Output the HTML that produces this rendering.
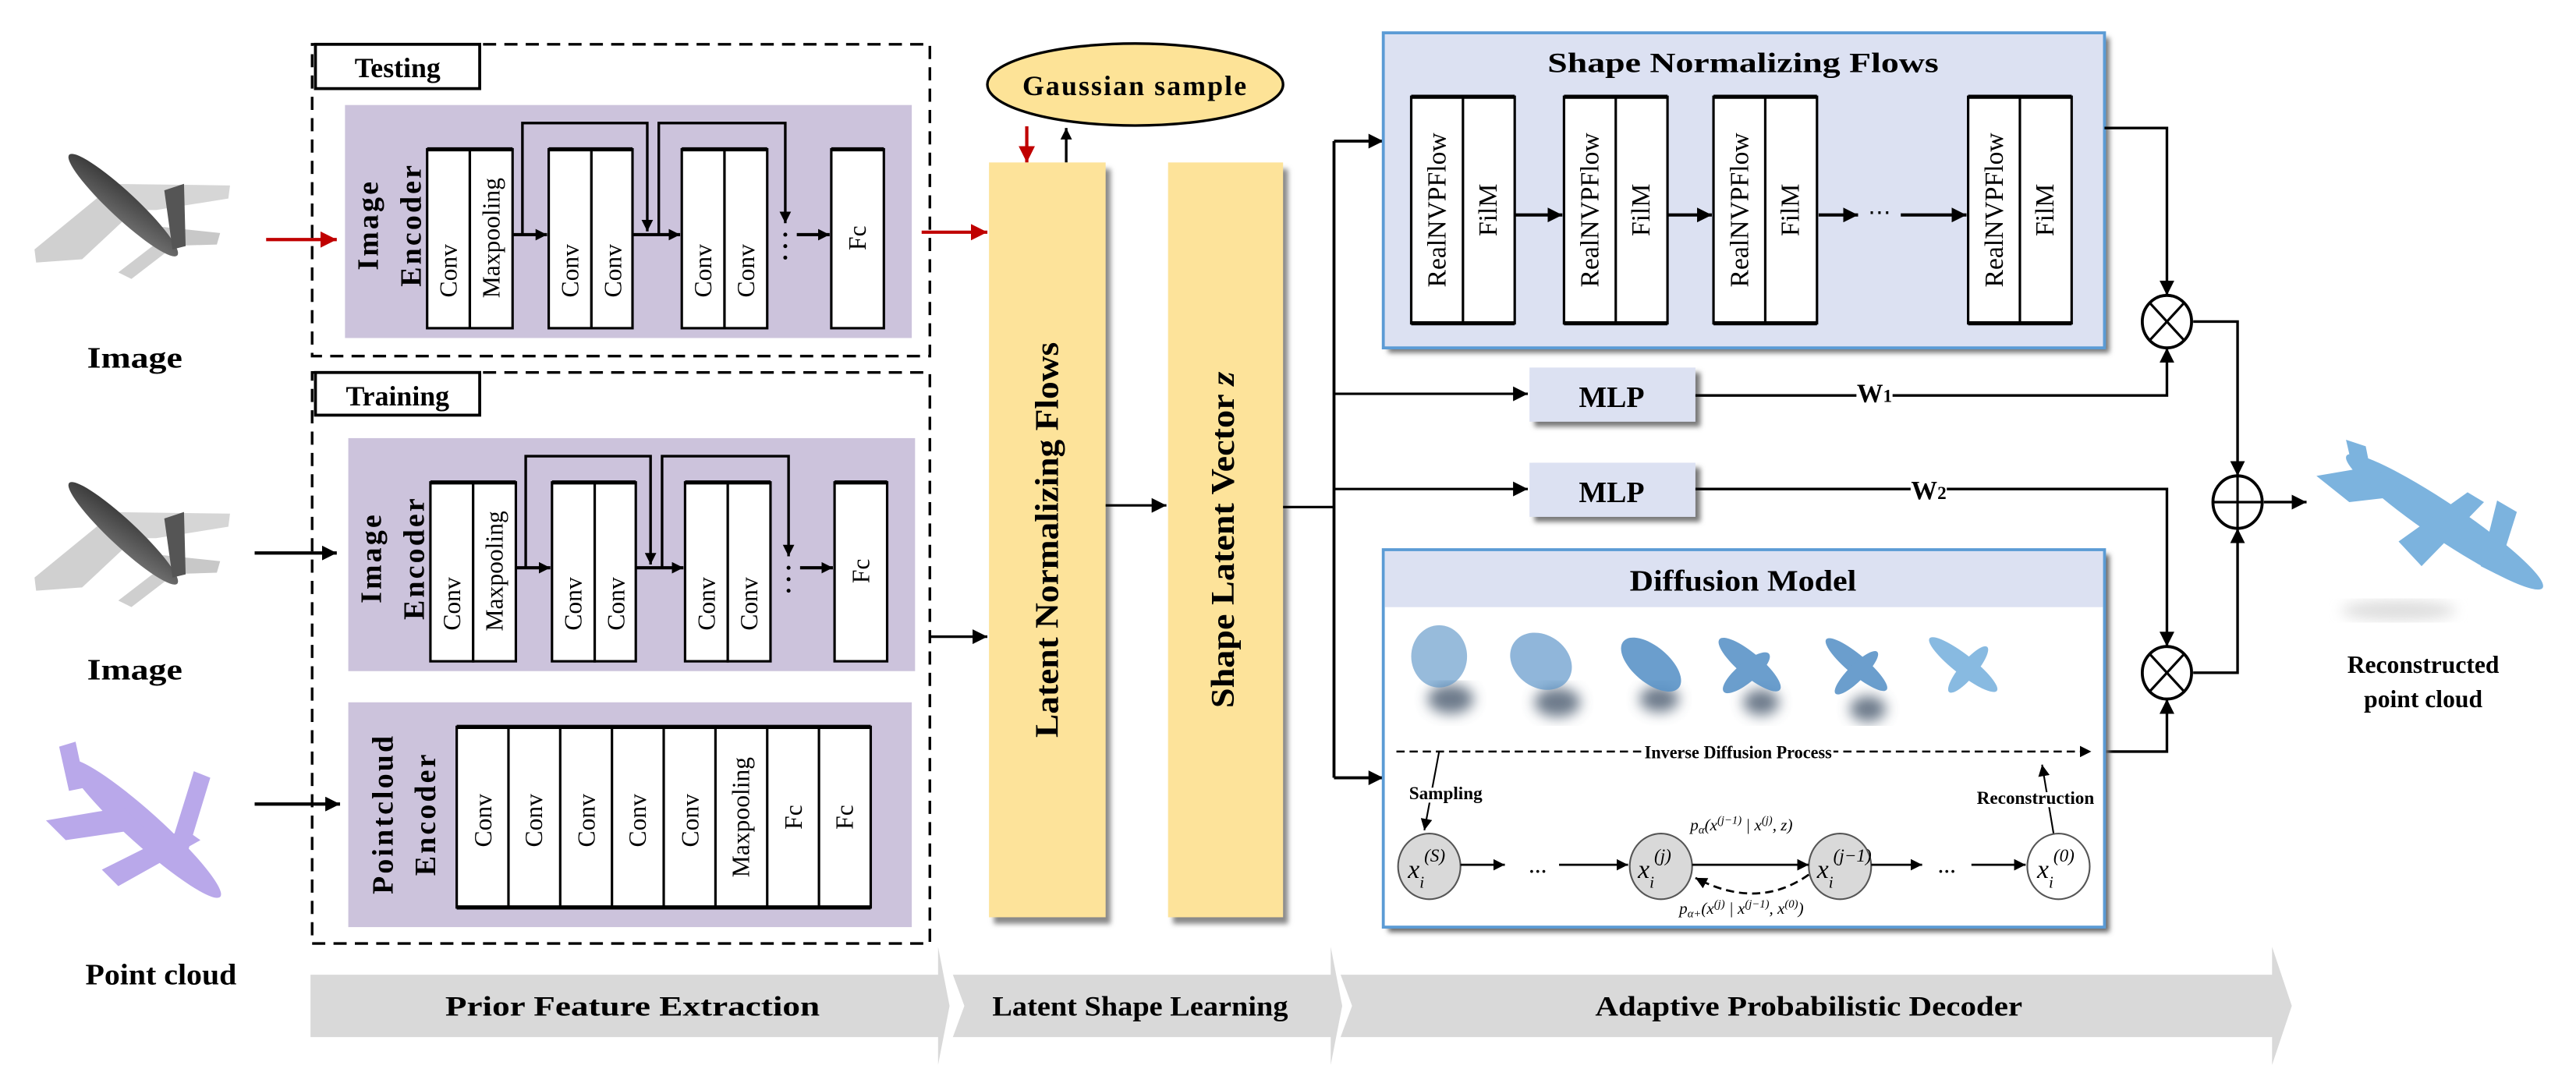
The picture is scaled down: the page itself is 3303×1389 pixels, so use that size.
<!DOCTYPE html>
<html><head><meta charset="utf-8"><style>
html,body{margin:0;padding:0;background:#fff;}
svg{display:block;}
text{font-family:"Liberation Serif",serif;}
</style></head><body>
<svg width="3303" height="1389" viewBox="0 0 1568 660" preserveAspectRatio="none" xmlns="http://www.w3.org/2000/svg">
<defs>
<marker id="a" viewBox="0 0 10 10" refX="10" refY="5" markerWidth="9" markerHeight="9" markerUnits="userSpaceOnUse" orient="auto"><path d="M0,0L10,5L0,10z" fill="#000"/></marker>
<marker id="as" viewBox="0 0 10 10" refX="10" refY="5" markerWidth="7" markerHeight="7" markerUnits="userSpaceOnUse" orient="auto"><path d="M0,0L10,5L0,10z" fill="#000"/></marker>
<marker id="ar" viewBox="0 0 10 10" refX="10" refY="5" markerWidth="10" markerHeight="10" markerUnits="userSpaceOnUse" orient="auto"><path d="M0,0L10,5L0,10z" fill="#c00000"/></marker>
<filter id="bl"><feGaussianBlur stdDeviation="4"/></filter>
<filter id="sh"><feGaussianBlur stdDeviation="1.5"/></filter>
<linearGradient id="fg" x1="0" y1="0" x2="1" y2="1"><stop offset="0" stop-color="#333"/><stop offset="1" stop-color="#777"/></linearGradient>
</defs>

<!-- bottom band -->
<g fill="#d9d9d9">
<polygon points="189,594 571,594 571,577 578,613 571,649 571,632 189,632"/>
<polygon points="580,594 810,594 810,577 817,613 810,649 810,632 580,632 587,613"/>
<polygon points="816,594 1383,594 1383,577 1395,613 1383,649 1383,632 816,632 823,613"/>
</g>
<g font-weight="bold" font-size="17" text-anchor="middle">
<text x="385" y="619" textLength="228" lengthAdjust="spacingAndGlyphs">Prior Feature Extraction</text>
<text x="694" y="619" textLength="180" lengthAdjust="spacingAndGlyphs">Latent Shape Learning</text>
<text x="1101" y="619" textLength="260" lengthAdjust="spacingAndGlyphs">Adaptive Probabilistic Decoder</text>
</g>

<!-- planes gray -->
<g id="gp">
<polygon points="62,112 140,113 139,121 95,128 60,128" fill="#d6d6d6"/>
<polygon points="60,120 82,128 50,158 22,160 21,152" fill="#d0d0d0"/>
<polygon points="96,138 134,142 132,149 100,150" fill="#c8c8c8"/>
<polygon points="98,146 106,150 80,170 72,166" fill="#cfcfcf"/>
<ellipse cx="75" cy="125" rx="45" ry="8" transform="rotate(43 75 125)" fill="url(#fg)"/>
<polygon points="100,116 112,112 113,150 105,152" fill="#555"/>
</g>
<use href="#gp" y="200"/>
<text x="82" y="224" font-size="18" font-weight="bold" text-anchor="middle" textLength="58" lengthAdjust="spacingAndGlyphs">Image</text>
<text x="82" y="414" font-size="18" font-weight="bold" text-anchor="middle" textLength="58" lengthAdjust="spacingAndGlyphs">Image</text>
<!-- purple plane -->
<g fill="#b9a8ea">
<ellipse cx="88" cy="505" rx="62" ry="10" transform="rotate(42 88 505)"/>
<polygon points="28,500 75,492 88,505 40,512"/>
<polygon points="62,530 112,505 122,512 72,540"/>
<polygon points="118,470 128,474 114,520 104,515"/>
<polygon points="36,455 46,452 52,480 42,482"/>
</g>
<text x="98" y="600" font-size="18" font-weight="bold" text-anchor="middle" textLength="92" lengthAdjust="spacingAndGlyphs">Point cloud</text>

<!-- input arrows -->
<line x1="162" y1="146" x2="205" y2="146" stroke="#c00000" stroke-width="2" marker-end="url(#ar)"/>
<line x1="155" y1="337" x2="205" y2="337" stroke="#000" stroke-width="2" marker-end="url(#a)"/>
<line x1="155" y1="490" x2="207" y2="490" stroke="#000" stroke-width="2" marker-end="url(#a)"/>

<!-- dashed boxes -->
<rect x="190" y="27" width="376" height="190" fill="none" stroke="#000" stroke-width="1.6" stroke-dasharray="8,5"/>
<rect x="190" y="227" width="376" height="348" fill="none" stroke="#000" stroke-width="1.6" stroke-dasharray="8,5"/>
<rect x="192" y="27" width="100" height="27" fill="#fff" stroke="#000" stroke-width="1.8"/>
<text x="242" y="47" font-size="17" font-weight="bold" text-anchor="middle">Testing</text>
<rect x="192" y="227" width="100" height="26" fill="#fff" stroke="#000" stroke-width="1.8"/>
<text x="242" y="247" font-size="17" font-weight="bold" text-anchor="middle">Training</text>

<!-- image encoder -->
<g id="ie">
<rect x="210" y="64" width="345" height="142" fill="#ccc3dc"/>
<g font-weight="bold" font-size="18" text-anchor="middle" letter-spacing="1.5">
<text transform="translate(230,137) rotate(-90)">Image</text>
<text transform="translate(256,137) rotate(-90)">Encoder</text>
</g>
<g fill="#fff" stroke="#000" stroke-width="1.5">
<rect x="260" y="91" width="26" height="109"/><rect x="286" y="91" width="26" height="109"/>
<rect x="334" y="91" width="26" height="109"/><rect x="360" y="91" width="25" height="109"/>
<rect x="415" y="91" width="26" height="109"/><rect x="441" y="91" width="26" height="109"/>
<rect x="506" y="91" width="32" height="109"/>
</g>
<g stroke="#000" stroke-width="2.5"><line x1="260" y1="91" x2="312" y2="91"/><line x1="334" y1="91" x2="385" y2="91"/><line x1="415" y1="91" x2="467" y2="91"/><line x1="506" y1="91" x2="538" y2="91"/></g>
<g font-size="15" text-anchor="middle">
<text transform="translate(278,165) rotate(-90)">Conv</text>
<text transform="translate(304,145) rotate(-90)">Maxpooling</text>
<text transform="translate(352,165) rotate(-90)">Conv</text>
<text transform="translate(378,165) rotate(-90)">Conv</text>
<text transform="translate(433,165) rotate(-90)">Conv</text>
<text transform="translate(459,165) rotate(-90)">Conv</text>
<text transform="translate(527,145) rotate(-90)">Fc</text>
</g>
<g fill="none" stroke="#000" stroke-width="1.6">
<line x1="312" y1="143" x2="333" y2="143" stroke-width="2" marker-end="url(#as)"/>
<line x1="385" y1="143" x2="414" y2="143" stroke-width="2" marker-end="url(#as)"/>
<line x1="485" y1="143" x2="505" y2="143" stroke-width="2" marker-end="url(#as)"/>
<polyline points="318,143 318,75 394,75 394,141" marker-end="url(#as)"/>
<polyline points="401,143 401,75 478,75 478,136" marker-end="url(#as)"/>
</g>
<g fill="#000"><circle cx="478" cy="143" r="1.2"/><circle cx="478" cy="150" r="1.2"/><circle cx="478" cy="157" r="1.2"/></g>
</g>
<use href="#ie" x="2" y="203"/>

<!-- pointcloud encoder -->
<rect x="212" y="428" width="343" height="137" fill="#ccc3dc"/>
<g font-weight="bold" font-size="18" text-anchor="middle" letter-spacing="1.5">
<text transform="translate(239,496) rotate(-90)">Pointcloud</text>
<text transform="translate(265,496) rotate(-90)">Encoder</text>
</g>
<g fill="#fff" stroke="#000" stroke-width="1.5">
<rect x="278" y="443" width="252" height="110"/>
</g>
<g stroke="#000" stroke-width="1.5">
<line x1="309.5" y1="443" x2="309.5" y2="553"/><line x1="341" y1="443" x2="341" y2="553"/><line x1="372.5" y1="443" x2="372.5" y2="553"/><line x1="404" y1="443" x2="404" y2="553"/><line x1="435.5" y1="443" x2="435.5" y2="553"/><line x1="467" y1="443" x2="467" y2="553"/><line x1="498.5" y1="443" x2="498.5" y2="553"/>
<line x1="278" y1="443" x2="530" y2="443" stroke-width="2.5"/><line x1="278" y1="553" x2="530" y2="553" stroke-width="2.5"/>
</g>
<g font-size="15" text-anchor="middle">
<text transform="translate(299,500) rotate(-90)">Conv</text>
<text transform="translate(330,500) rotate(-90)">Conv</text>
<text transform="translate(362,500) rotate(-90)">Conv</text>
<text transform="translate(393,500) rotate(-90)">Conv</text>
<text transform="translate(425,500) rotate(-90)">Conv</text>
<text transform="translate(456,498) rotate(-90)">Maxpooling</text>
<text transform="translate(488,498) rotate(-90)">Fc</text>
<text transform="translate(519,498) rotate(-90)">Fc</text>
</g>

<!-- to latent NF -->
<line x1="561" y1="141.5" x2="601" y2="141.5" stroke="#c00000" stroke-width="2" marker-end="url(#ar)"/>
<line x1="566" y1="388" x2="601" y2="388" stroke="#000" stroke-width="1.6" marker-end="url(#a)"/>

<!-- Gaussian -->
<ellipse cx="691" cy="51.5" rx="90" ry="25" fill="#fde397" stroke="#000" stroke-width="1.6"/>
<text x="691" y="58" font-size="17" font-weight="bold" text-anchor="middle" letter-spacing="1">Gaussian sample</text>
<line x1="625" y1="77" x2="625" y2="99" stroke="#c00000" stroke-width="2" marker-end="url(#ar)"/>
<line x1="649" y1="99" x2="649" y2="78" stroke="#000" stroke-width="1.6" marker-end="url(#as)"/>

<!-- yellow boxes -->
<rect x="605" y="103" width="71" height="460" fill="#888" filter="url(#sh)"/>
<rect x="602" y="99" width="71" height="460" fill="#fde39a"/>
<rect x="714" y="103" width="70" height="460" fill="#888" filter="url(#sh)"/>
<rect x="711" y="99" width="70" height="460" fill="#fde39a"/>
<text transform="translate(644,329) rotate(-90)" font-size="20" font-weight="bold" text-anchor="middle" textLength="241" lengthAdjust="spacingAndGlyphs">Latent Normalizing Flows</text>
<text transform="translate(751,329) rotate(-90)" font-size="20" font-weight="bold" text-anchor="middle" textLength="205" lengthAdjust="spacingAndGlyphs">Shape Latent Vector <tspan font-style="italic">z</tspan></text>
<line x1="673" y1="308" x2="710" y2="308" stroke="#000" stroke-width="1.5" marker-end="url(#a)"/>
<line x1="781" y1="309" x2="812" y2="309" stroke="#000" stroke-width="1.5"/>
<line x1="812" y1="86" x2="812" y2="474" stroke="#000" stroke-width="1.8"/>
<line x1="812" y1="86" x2="842" y2="86" stroke="#000" stroke-width="1.8" marker-end="url(#a)"/>
<line x1="812" y1="240" x2="930" y2="240" stroke="#000" stroke-width="1.5" marker-end="url(#a)"/>
<line x1="812" y1="298" x2="930" y2="298" stroke="#000" stroke-width="1.5" marker-end="url(#a)"/>
<line x1="812" y1="474" x2="842" y2="474" stroke="#000" stroke-width="1.8" marker-end="url(#a)"/>

<!-- Shape NF -->
<rect x="845" y="23" width="439" height="192" fill="#777" filter="url(#sh)"/>
<rect x="842" y="20" width="439" height="192" fill="#dce1f2" stroke="#5b9bd5" stroke-width="1.8"/>
<text x="1061" y="44" font-size="17" font-weight="bold" text-anchor="middle" textLength="238" lengthAdjust="spacingAndGlyphs">Shape Normalizing Flows</text>
<g id="nb">
<rect x="859" y="59" width="63" height="138" fill="#fff" stroke="#000" stroke-width="1.5"/>
<line x1="890.5" y1="59" x2="890.5" y2="197" stroke="#000" stroke-width="1.5"/>
<line x1="859" y1="59" x2="922" y2="59" stroke="#000" stroke-width="2.5"/>
<line x1="859" y1="197" x2="922" y2="197" stroke="#000" stroke-width="2.5"/>
<text transform="translate(880,128) rotate(-90)" font-size="16" text-anchor="middle">RealNVPFlow</text>
<text transform="translate(911,128) rotate(-90)" font-size="16" text-anchor="middle">FilM</text>
</g>
<use href="#nb" x="93"/><use href="#nb" x="184"/><use href="#nb" x="339"/>
<g stroke="#000" stroke-width="2">
<line x1="922" y1="131" x2="951" y2="131" marker-end="url(#a)"/>
<line x1="1015" y1="131" x2="1042" y2="131" marker-end="url(#a)"/>
<line x1="1107" y1="131" x2="1131" y2="131" marker-end="url(#a)"/>
<line x1="1157" y1="131" x2="1197" y2="131" marker-end="url(#a)"/>
</g>
<text x="1144" y="134" font-size="14" text-anchor="middle">⋯</text>

<!-- MLPs -->
<rect x="934" y="227" width="101" height="33" fill="#777" filter="url(#sh)"/>
<rect x="931" y="224" width="101" height="33" fill="#dce1f2"/>
<text x="981" y="248" font-size="18" font-weight="bold" text-anchor="middle">MLP</text>
<rect x="934" y="285" width="101" height="33" fill="#777" filter="url(#sh)"/>
<rect x="931" y="282" width="101" height="33" fill="#dce1f2"/>
<text x="981" y="306" font-size="18" font-weight="bold" text-anchor="middle">MLP</text>

<!-- combination -->
<g fill="none" stroke="#000" stroke-width="1.6">
<polyline points="1281,78 1319,78 1319,180" marker-end="url(#a)"/>
<polyline points="1032,241 1319,241 1319,212" marker-end="url(#a)"/>
<polyline points="1032,298 1319,298 1319,394" marker-end="url(#a)"/>
<polyline points="1281,458 1319,458 1319,426" marker-end="url(#a)"/>
<polyline points="1335,196 1362,196 1362,290" marker-end="url(#a)"/>
<polyline points="1335,410 1362,410 1362,322" marker-end="url(#a)"/>
<line x1="1378" y1="306" x2="1404" y2="306" marker-end="url(#a)"/>
</g>
<rect x="1130" y="230" width="22" height="18" fill="#fff"/>
<text x="1141" y="245" font-size="16" font-weight="bold" text-anchor="middle">W<tspan font-size="11">1</tspan></text>
<rect x="1163" y="287" width="22" height="18" fill="#fff"/>
<text x="1174" y="304" font-size="16" font-weight="bold" text-anchor="middle">W<tspan font-size="11">2</tspan></text>
<g fill="#fff" stroke="#000" stroke-width="1.8">
<ellipse cx="1319" cy="196" rx="15" ry="16"/>
<ellipse cx="1319" cy="410" rx="15" ry="16"/>
<ellipse cx="1362" cy="306" rx="15" ry="16"/>
</g>
<g stroke="#000" stroke-width="1.5">
<line x1="1308" y1="184" x2="1330" y2="208"/><line x1="1330" y1="184" x2="1308" y2="208"/>
<line x1="1308" y1="398" x2="1330" y2="422"/><line x1="1330" y1="398" x2="1308" y2="422"/>
<line x1="1347" y1="306" x2="1377" y2="306"/><line x1="1362" y1="290" x2="1362" y2="322"/>
</g>

<!-- reconstructed -->
<ellipse cx="1460" cy="372" rx="35" ry="6" fill="#ddd" filter="url(#bl)"/>
<g fill="#7cb3de">
<ellipse cx="1488" cy="318" rx="72" ry="11" transform="rotate(34 1488 318)"/>
<polygon points="1410,290 1445,284 1465,302 1430,306"/>
<polygon points="1460,330 1502,300 1512,306 1474,345"/>
<polygon points="1428,268 1440,272 1444,292 1434,294"/>
<polygon points="1520,305 1532,312 1520,350 1510,345"/>
</g>
<text x="1475" y="410" font-size="15" font-weight="bold" text-anchor="middle">Reconstructed</text>
<text x="1475" y="431" font-size="15" font-weight="bold" text-anchor="middle">point cloud</text>

<!-- Diffusion -->
<rect x="845" y="338" width="439" height="230" fill="#666" filter="url(#sh)"/>
<rect x="842" y="335" width="439" height="230" fill="#fff" stroke="#5b9bd5" stroke-width="1.8"/>
<rect x="843" y="336" width="437" height="34" fill="#dce1f2"/>
<text x="1061" y="360" font-size="18" font-weight="bold" text-anchor="middle" textLength="138" lengthAdjust="spacingAndGlyphs">Diffusion Model</text>
<g filter="url(#bl)" fill="#4a5a6e" opacity="0.8">
<ellipse cx="883" cy="426" rx="14" ry="9"/><ellipse cx="948" cy="428" rx="14" ry="9"/><ellipse cx="1010" cy="426" rx="12" ry="8"/><ellipse cx="1072" cy="428" rx="11" ry="8"/><ellipse cx="1137" cy="432" rx="11" ry="8"/>
</g>
<g fill="#5b94c8" opacity="0.9">
<ellipse cx="876" cy="400" rx="17" ry="19" opacity="0.7"/>
<ellipse cx="938" cy="403" rx="20" ry="16" transform="rotate(35 938 403)" opacity="0.75"/>
<ellipse cx="1005" cy="405" rx="22" ry="11" transform="rotate(40 1005 405)"/>
<ellipse cx="1065" cy="405" rx="24" ry="7" transform="rotate(40 1065 405)"/>
<ellipse cx="1063" cy="410" rx="18" ry="6" transform="rotate(-40 1063 410)"/>
<ellipse cx="1130" cy="405" rx="24" ry="6" transform="rotate(40 1130 405)"/>
<ellipse cx="1130" cy="410" rx="18" ry="5" transform="rotate(-45 1130 410)"/>
<ellipse cx="1195" cy="405" rx="26" ry="6" transform="rotate(38 1195 405)" fill="#7cb3de"/>
<ellipse cx="1198" cy="408" rx="18" ry="5" transform="rotate(-50 1198 408)" fill="#7cb3de"/>
</g>
<line x1="850" y1="458" x2="1273" y2="458" stroke="#000" stroke-width="1.2" stroke-dasharray="5,3" marker-end="url(#as)"/>
<rect x="1000" y="450" width="116" height="14" fill="#fff"/>
<text x="1058" y="462" font-size="11" font-weight="bold" text-anchor="middle" textLength="114" lengthAdjust="spacingAndGlyphs">Inverse Diffusion Process</text>
<line x1="876" y1="458" x2="867" y2="506" stroke="#000" stroke-width="1" marker-end="url(#as)"/>
<text x="880" y="487" font-size="11" font-weight="bold" text-anchor="middle" fill="#fff" stroke="#fff" stroke-width="4">Sampling</text>
<text x="880" y="487" font-size="11" font-weight="bold" text-anchor="middle">Sampling</text>
<line x1="1250" y1="508" x2="1243" y2="466" stroke="#000" stroke-width="1" marker-end="url(#as)"/>
<text x="1239" y="490" font-size="11" font-weight="bold" text-anchor="middle" fill="#fff" stroke="#fff" stroke-width="4">Reconstruction</text>
<text x="1239" y="490" font-size="11" font-weight="bold" text-anchor="middle">Reconstruction</text>
<g stroke="#555" stroke-width="1">
<ellipse cx="870" cy="528" rx="19" ry="20" fill="#d9d9d9"/>
<ellipse cx="1011" cy="528" rx="19" ry="20" fill="#d9d9d9"/>
<ellipse cx="1120" cy="528" rx="19" ry="20" fill="#d9d9d9"/>
<ellipse cx="1253" cy="528" rx="19" ry="20" fill="#fff"/>
</g>
<g stroke="#000" stroke-width="1.3">
<line x1="889" y1="527" x2="916" y2="527" marker-end="url(#as)"/>
<line x1="949" y1="527" x2="991" y2="527" marker-end="url(#as)"/>
<line x1="1030" y1="527" x2="1101" y2="527" marker-end="url(#as)"/>
<line x1="1139" y1="527" x2="1170" y2="527" marker-end="url(#as)"/>
<line x1="1200" y1="527" x2="1233" y2="527" marker-end="url(#as)"/>
<path d="M1101,533 Q1070,555 1032,535" fill="none" stroke-dasharray="5,3" marker-end="url(#as)"/>
</g>
<g font-size="11" text-anchor="middle" font-weight="bold"><text x="936" y="532">…</text><text x="1185" y="532">…</text></g>
<g font-style="italic" font-size="16">
<text x="857" y="535">x<tspan font-size="10" dy="6">i</tspan><tspan font-size="11" dy="-16">(S)</tspan></text>
<text x="997" y="535">x<tspan font-size="10" dy="6">i</tspan><tspan font-size="11" dy="-16">(j)</tspan></text>
<text x="1106" y="535">x<tspan font-size="10" dy="6">i</tspan><tspan font-size="11" dy="-16">(j−1)</tspan></text>
<text x="1240" y="535">x<tspan font-size="10" dy="6">i</tspan><tspan font-size="11" dy="-16">(0)</tspan></text>
</g>
<g font-style="italic" font-size="10" text-anchor="middle">
<text x="1060" y="506">p<tspan font-size="7" dy="2">α</tspan><tspan dy="-2">(x</tspan><tspan font-size="7" dy="-4">(j−1)</tspan><tspan dy="4"> | x</tspan><tspan font-size="7" dy="-4">(j)</tspan><tspan dy="4">, z)</tspan></text>
<text x="1060" y="557">p<tspan font-size="7" dy="2">α+</tspan><tspan dy="-2">(x</tspan><tspan font-size="7" dy="-4">(j)</tspan><tspan dy="4"> | x</tspan><tspan font-size="7" dy="-4">(j−1)</tspan><tspan dy="4">, x</tspan><tspan font-size="7" dy="-4">(0)</tspan><tspan dy="4">)</tspan></text>
</g>
</svg>
</body></html>
